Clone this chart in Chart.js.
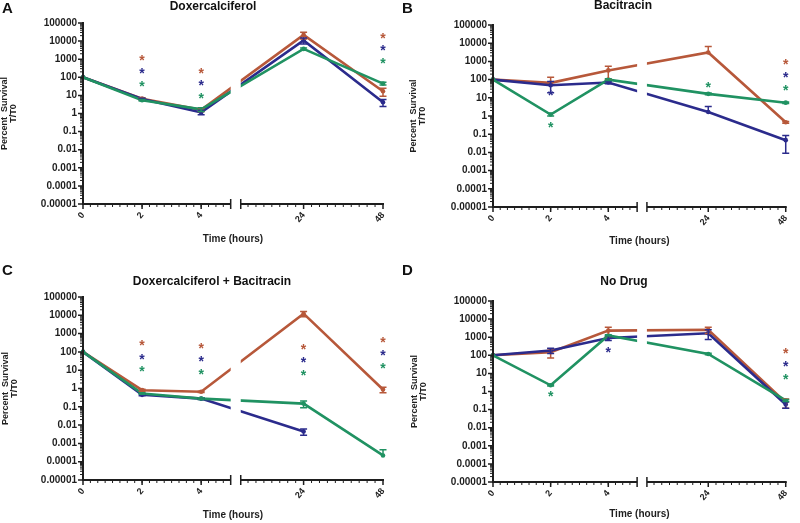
<!DOCTYPE html>
<html lang="en">
<head>
<meta charset="utf-8">
<title>Percent Survival T/T0</title>
<script src="https://cdn.jsdelivr.net/npm/chart.js@4.4.1/dist/chart.umd.min.js"></script>
<style>
  body { margin: 0; background: #fff; }
  #quadro { position: relative; width: 800px; height: 523px; overflow: hidden; }
  canvas { position: absolute; }
</style>
</head>
<body>
<div id="quadro">
  <canvas id="cvs_a" width="400" height="260" style="left:0;top:0"></canvas>
  <canvas id="cvs_b" width="400" height="260" style="left:400px;top:0"></canvas>
  <canvas id="cvs_c" width="400" height="263" style="left:0;top:260px"></canvas>
  <canvas id="cvs_d" width="400" height="263" style="left:400px;top:260px"></canvas>
</div>
<script>
// eixos
const horas = [0, 2, 4, 24, 48];
const rotulosHoras = ["0", "2", "4", "24", "48"];
const valoresY = [0.00001, 0.0001, 0.001, 0.01, 0.1, 1, 10, 100, 1000, 10000, 100000];
const rotulosY = ["0.00001", "0.0001", "0.001", "0.01", "0.1", "1", "10", "100", "1000", "10000", "100000"];

// A - Doxercalciferol
const doxMarrom = [100, 6.6, 1.6, 22000, 17];
const doxAzul = [100, 6.3, 1.15, 11000, 4.2];
const doxVerde = [100, 5.4, 1.7, 3700, 45];
const doxErroMarrom = [0, 0.8, 0.3, 9000, 8];
const doxErroAzul = [0, 0.6, 0.3, 4000, 1.8];
const doxErroVerde = [0, 0.5, 0.4, 500, 8];
// [hora, valor, serie] -> 0 marrom, 1 azul, 2 verde
const doxAsteriscos = [[2, 1260, 0], [2, 260, 1], [2, 50, 2], [4, 260, 0], [4, 53, 1], [4, 10, 2], [48, 23000, 0], [48, 4600, 1], [48, 870, 2]];

// B - Bacitracin
const baciMarrom = [100, 66, 320, 3100, 0.45];
const baciAzul = [100, 49, 69, 1.66, 0.047];
const baciVerde = [100, 1.2, 100, 16.5, 5.4];
const baciErroMarrom = [0, 70, 220, 3500, 0.05];
const baciErroAzul = [0, 30, 10, 1.7, 0.038];
const baciErroVerde = [0, 0.2, 10, 2, 0.5];
const baciAsteriscos = [[2, 20, 1], [2, 0.38, 2], [24, 58, 2], [48, 1000, 0], [48, 210, 1], [48, 40, 2]];

// C - Doxercalciferol + Bacitracin
const combMarrom = [100, 0.81, 0.66, 12300, 0.88];
const combAzul = [100, 0.45, 0.28, 0.0045, null];
const combVerde = [100, 0.53, 0.28, 0.15, 0.00022];
const combErroMarrom = [0, 0.1, 0.05, 4000, 0.3];
const combErroAzul = [0, 0.05, 0.03, 0.0017, 0];
const combErroVerde = [0, 0.05, 0.03, 0.06, 0.00023];
const combAsteriscos = [[2, 350, 0], [2, 60, 1], [2, 13, 2], [4, 240, 0], [4, 45, 1], [4, 9, 2], [24, 210, 0], [24, 40, 1], [24, 8, 2], [48, 490, 0], [48, 100, 1], [48, 19, 2]];

// D - No Drug
const semMarrom = [100, 150, 2300, 2600, 0.25];
const semAzul = [100, 185, 900, 1650, 0.19];
const semVerde = [100, 2.2, 1250, 118, 0.32];
const semErroMarrom = [0, 80, 1200, 1000, 0.13];
const semErroAzul = [0, 60, 250, 900, 0.07];
const semErroVerde = [0, 0.2, 100, 10, 0.04];
const semAsteriscos = [[2, 0.8, 2], [4, 230, 1], [48, 200, 0], [48, 36, 1], [48, 7.4, 2]];

const cores = ["rgb(183, 88, 58)", "rgb(43, 43, 140)", "rgb(32, 146, 98)"];
const nomesSeries = ["Série marrom", "Série azul", "Série verde"];
const corTexto = "#1e1e1e";
const fonte = "'Liberation Sans', Arial, sans-serif";

Chart.defaults.font.family = fonte;

// corte do eixo X: 0-5 h em escala cheia, depois 5-48 h comprimido
const CORTE = 5;
const FOLGA = 0.34;
const FATOR = 0.112;

function posX(h) {
  return h <= CORTE ? h : CORTE + FOLGA + (h - CORTE) * FATOR;
}

function criarPainel(id, letra, titulo, series, erros, asteriscos, g) {
  const pluginDesenho = {
    id: "desenho_" + id,
    afterDatasetsDraw(chart) {
      const ctx = chart.ctx;
      const x = chart.scales.x;
      const y = chart.scales.y;
      const area = chart.chartArea;
      const c1 = x.getPixelForValue(CORTE);
      const c2 = x.getPixelForValue(CORTE + FOLGA);
      ctx.save();
      // faixa branca no corte
      ctx.fillStyle = "#fff";
      ctx.fillRect(c1, area.top - 12, c2 - c1, area.bottom - area.top + 9);

      // barras de erro (sem a metade de baixo quando passa de zero)
      series.forEach((valores, s) => {
        ctx.strokeStyle = cores[s];
        ctx.lineWidth = 1.5;
        valores.forEach((v, i) => {
          const e = erros[s][i];
          if (v == null || !e) return;
          const px = x.getPixelForValue(posX(horas[i]));
          const topo = y.getPixelForValue(v + e);
          const temBase = v - e > 0;
          const base = temBase ? y.getPixelForValue(v - e) : y.getPixelForValue(v);
          ctx.beginPath();
          ctx.moveTo(px, topo);
          ctx.lineTo(px, base);
          ctx.moveTo(px - 3.5, topo);
          ctx.lineTo(px + 3.5, topo);
          if (temBase) {
            ctx.moveTo(px - 3.5, base);
            ctx.lineTo(px + 3.5, base);
          }
          ctx.stroke();
        });
      });

      // asteriscos
      ctx.font = "bold 14px " + fonte;
      ctx.textAlign = "center";
      ctx.textBaseline = "alphabetic";
      asteriscos.forEach(([h, v, s]) => {
        ctx.fillStyle = cores[s];
        ctx.fillText("*", x.getPixelForValue(posX(h)), y.getPixelForValue(v) + 8);
      });
      ctx.restore();
    },
    afterDraw(chart) {
      const ctx = chart.ctx;
      const x = chart.scales.x;
      const y = chart.scales.y;
      const area = chart.chartArea;
      const c1 = x.getPixelForValue(CORTE);
      const c2 = x.getPixelForValue(CORTE + FOLGA);
      ctx.save();
      ctx.strokeStyle = corTexto;

      // linhas dos eixos
      ctx.lineWidth = 2;
      ctx.beginPath();
      ctx.moveTo(area.left, area.top - 1);
      ctx.lineTo(area.left, area.bottom + 1);
      ctx.moveTo(area.left - 1, area.bottom);
      ctx.lineTo(c1, area.bottom);
      ctx.moveTo(c2, area.bottom);
      ctx.lineTo(area.right + 1, area.bottom);
      ctx.stroke();

      ctx.lineWidth = 1.5;
      ctx.beginPath();
      [c1, c2].forEach((cx) => {
        ctx.moveTo(cx, area.bottom - 5);
        ctx.lineTo(cx, area.bottom + 5);
      });
      // marcas maiores
      valoresY.forEach((v) => {
        const p = y.getPixelForValue(v);
        ctx.moveTo(area.left, p);
        ctx.lineTo(area.left - 5, p);
      });
      horas.forEach((h) => {
        const p = x.getPixelForValue(posX(h));
        ctx.moveTo(p, area.bottom);
        ctx.lineTo(p, area.bottom + 5);
      });
      ctx.stroke();

      // marcas menores
      ctx.lineWidth = 1;
      ctx.beginPath();
      for (let d = 0; d < valoresY.length - 1; d++) {
        for (let m = 2; m <= 9; m++) {
          const p = y.getPixelForValue(valoresY[d] * m);
          ctx.moveTo(area.left, p);
          ctx.lineTo(area.left - 3, p);
        }
      }
      const menores = [];
      for (let h = 0.25; h < CORTE; h += 0.25) menores.push(h);
      for (let h = 24 - 2.4; h > CORTE + 0.5; h -= 2.4) menores.push(h);
      for (let h = 24 + 2.4; h < 47.9; h += 2.4) menores.push(h);
      menores.forEach((h) => {
        const p = x.getPixelForValue(posX(h));
        ctx.moveTo(p, area.bottom);
        ctx.lineTo(p, area.bottom + 3);
      });
      ctx.stroke();

      // letra e título do painel
      ctx.fillStyle = "#111";
      ctx.textAlign = "left";
      ctx.textBaseline = "alphabetic";
      ctx.font = "bold 15px " + fonte;
      ctx.fillText(letra, 2, g.letraY);
      ctx.textAlign = "center";
      ctx.textBaseline = "middle";
      ctx.font = "bold 12px " + fonte;
      ctx.fillText(titulo, g.tituloX, g.tituloY);
      ctx.restore();
    },
  };

  new Chart(document.getElementById(id), {
    type: "line",
    data: {
      // verde por cima, marrom por baixo
      datasets: [2, 1, 0].map((s) => ({
        label: nomesSeries[s],
        data: horas.map((h, i) => ({ x: posX(h), y: series[s][i] })),
        borderColor: cores[s],
        backgroundColor: cores[s],
        borderWidth: 2.6,
        pointRadius: 2.3,
        pointBorderWidth: 0,
        tension: 0,
        clip: false,
      })),
    },
    options: {
      responsive: false,
      animation: false,
      events: [],
      layout: { padding: { left: 0, right: g.direita, top: g.topo, bottom: 0 } },
      plugins: {
        legend: { display: false },
        title: { display: false },
        tooltip: { enabled: false },
      },
      scales: {
        x: {
          type: "linear",
          min: 0,
          max: posX(48),
          grid: { display: false, drawTicks: false },
          border: { display: false },
          afterBuildTicks: (escala) => {
            escala.ticks = horas.map((h) => ({ value: posX(h) }));
          },
          afterFit: (escala) => {
            escala.height = g.h - g.topo - g.altura;
          },
          ticks: {
            autoSkip: false,
            minRotation: 50,
            maxRotation: 50,
            padding: 6,
            color: corTexto,
            font: { size: 9, weight: "bold" },
            callback: (valor, i) => rotulosHoras[i],
          },
          title: {
            display: true,
            text: "Time (hours)",
            color: corTexto,
            font: { size: 10, weight: "bold", lineHeight: 1.2 },
            padding: { top: 0, bottom: g.h - g.tempoY - 6 },
          },
        },
        y: {
          type: "logarithmic",
          min: 0.00001,
          max: 100000,
          grid: { display: false, drawTicks: false },
          border: { display: false },
          afterBuildTicks: (escala) => {
            escala.ticks = valoresY.map((v) => ({ value: v }));
          },
          afterFit: (escala) => {
            escala.width = g.eixoY;
          },
          ticks: {
            padding: 6,
            color: corTexto,
            font: { size: 10, weight: "bold" },
            callback: (valor, i) => rotulosY[i],
          },
          title: {
            display: true,
            text: ["Percent  Survival", "T/T0"],
            color: corTexto,
            font: { size: 9, weight: "bold", lineHeight: 1 },
            padding: { top: g.padTituloY, bottom: 0 },
          },
        },
      },
    },
    plugins: [pluginDesenho],
  });
}

criarPainel("cvs_a", "A", "Doxercalciferol",
  [doxMarrom, doxAzul, doxVerde], [doxErroMarrom, doxErroAzul, doxErroVerde], doxAsteriscos,
  { h: 260, eixoY: 83, direita: 17, topo: 23, altura: 181, letraY: 13, tituloX: 213, tituloY: 7, tempoY: 239, padTituloY: 0 });

criarPainel("cvs_b", "B", "Bacitracin",
  [baciMarrom, baciAzul, baciVerde], [baciErroMarrom, baciErroAzul, baciErroVerde], baciAsteriscos,
  { h: 260, eixoY: 93, direita: 7, topo: 25, altura: 182, letraY: 13, tituloX: 223, tituloY: 6, tempoY: 241, padTituloY: 9 });

criarPainel("cvs_c", "C", "Doxercalciferol + Bacitracin",
  [combMarrom, combAzul, combVerde], [combErroMarrom, combErroAzul, combErroVerde], combAsteriscos,
  { h: 263, eixoY: 83, direita: 17, topo: 37, altura: 183, letraY: 15, tituloX: 212, tituloY: 22, tempoY: 255, padTituloY: 1 });

criarPainel("cvs_d", "D", "No Drug",
  [semMarrom, semAzul, semVerde], [semErroMarrom, semErroAzul, semErroVerde], semAsteriscos,
  { h: 263, eixoY: 93, direita: 7, topo: 41, altura: 181, letraY: 15, tituloX: 224, tituloY: 22, tempoY: 254, padTituloY: 10 });
</script>
</body>
</html>
